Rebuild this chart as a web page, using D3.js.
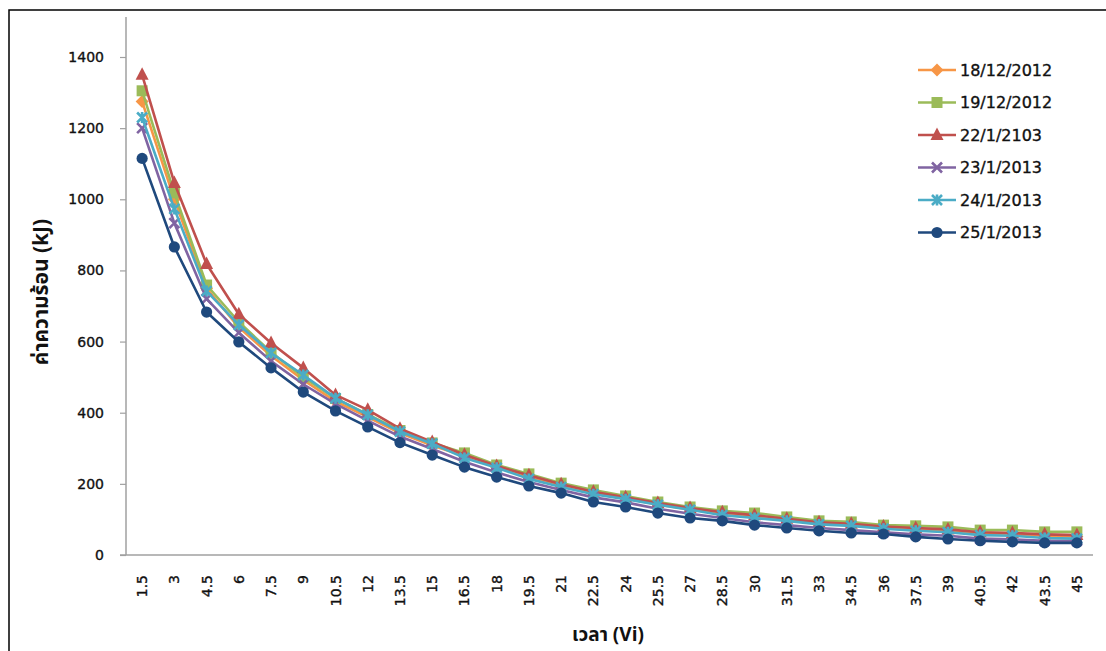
<!DOCTYPE html>
<html><head><meta charset="utf-8">
<script src="https://cdn.jsdelivr.net/npm/d3@7"></script>
<style>body{margin:0;background:#fff}svg{display:block}</style>
</head><body>
<svg id="c" width="1106" height="651"></svg>
<script>
const categories = [1.5,3,4.5,6,7.5,9,10.5,12,13.5,15,16.5,18,19.5,21,22.5,24,25.5,27,28.5,30,31.5,33,34.5,36,37.5,39,40.5,42,43.5,45];
const seriesNames = ["18/12/2012","19/12/2012","22/1/2103","23/1/2013","24/1/2013","25/1/2013"];
const s18_12_2012 = [1275,1000,750,640,560,492,432,388,343,308,278,246,220,195,176,159,142,128,116,108,98,88,84,75,72,68,60,58,54,52];
const s19_12_2012 = [1305,1018,759,655,570,500,440,395,350,315,287,253,228,202,183,166,149,135,124,118,107,96,93,84,82,79,70,70,65,65];
const s22_1_2103  = [1350,1046,818,677,596,526,450,408,355,318,282,250,224,199,178,162,146,132,120,112,102,92,88,80,76,72,64,62,58,56];
const s23_1_2013  = [1200,933,720,625,545,480,425,378,333,298,262,232,205,183,162,148,130,116,104,92,84,76,70,64,58,54,46,44,40,40];
const s24_1_2013  = [1230,973,742,647,568,506,441,394,347,313,273,245,214,191,171,157,141,127,112,104,96,86,82,74,68,64,56,54,48,46];
const s25_1_2013  = [1115,866,683,599,526,458,405,360,316,281,247,219,194,174,149,135,118,104,96,84,76,68,62,59,51,45,40,37,34,34];
const yTicks = [0,200,400,600,800,1000,1200,1400];
const colors = ["#F79646","#9BBB59","#C0504D","#8064A2","#4BACC6","#1F497D"];
const markers = ["diamond","square","triangle","x","star","circle"];
const allSeries = [s18_12_2012,s19_12_2012,s22_1_2103,s23_1_2013,s24_1_2013,s25_1_2013];

(function(){
const svg = d3.select("#c");
const pLeft=126, pRight=1093, pTop=17, pBottom=555;
const x = d3.scaleBand().domain(categories).range([pLeft,pRight]).padding(0);
const xc = d => x(d) + x.bandwidth()/2;
const y = d3.scaleLinear().domain([0,1400]).range([pBottom,57]);

svg.append("rect").attr("x",9).attr("y",10).attr("width",1120).attr("height",680)
  .attr("fill","none").attr("stroke","#000").attr("stroke-width",1.5);

const font = "'DejaVu Sans', Tahoma, Verdana, sans-serif";
const heavy = sel => sel.attr("stroke","#111").attr("stroke-width",0.35);

const ya = svg.append("g").attr("transform",`translate(${pLeft},0)`)
  .call(d3.axisLeft(y).tickValues(yTicks).tickSize(6).tickPadding(16).tickFormat(d3.format("d")));
ya.select(".domain").remove();
ya.selectAll(".tick line").attr("stroke","#A0A0A0").attr("stroke-width",1.2);
heavy(ya.selectAll("text").attr("font-family",font).attr("font-size",14).attr("fill","#111"));
svg.append("line").attr("x1",pLeft).attr("x2",pLeft).attr("y1",pTop).attr("y2",pBottom)
  .attr("stroke","#A0A0A0").attr("stroke-width",1.5);

const xa = svg.append("g").attr("transform",`translate(0,${pBottom})`)
  .call(d3.axisBottom(x).tickSize(0).tickPadding(0).tickFormat(d => String(d)));
xa.select(".domain").remove();
heavy(xa.selectAll("text").attr("font-family",font).attr("font-size",14).attr("fill","#111")
  .attr("text-anchor","end").attr("dy","0.36em")
  .attr("transform","translate(0,20) rotate(-90)").attr("x",0).attr("y",0));
svg.append("line").attr("x1",120).attr("x2",pRight).attr("y1",pBottom).attr("y2",pBottom)
  .attr("stroke","#A0A0A0").attr("stroke-width",1.5);

function drawMarker(g, type, color, cx, cy) {
  if (type==="diamond") {
    g.append("path").attr("d",`M${cx},${cy-6.5}L${cx+6.5},${cy}L${cx},${cy+6.5}L${cx-6.5},${cy}Z`).attr("fill",color);
  } else if (type==="square") {
    g.append("rect").attr("x",cx-5.5).attr("y",cy-5.5).attr("width",11).attr("height",11).attr("fill",color);
  } else if (type==="triangle") {
    g.append("path").attr("d",`M${cx},${cy-7.5}L${cx+6.5},${cy+5}L${cx-6.5},${cy+5}Z`).attr("fill",color);
  } else if (type==="x") {
    g.append("path").attr("d",`M${cx-5},${cy-5}L${cx+5},${cy+5}M${cx+5},${cy-5}L${cx-5},${cy+5}`)
      .attr("stroke",color).attr("stroke-width",2.6);
  } else if (type==="star") {
    g.append("path").attr("d",`M${cx-5},${cy-5}L${cx+5},${cy+5}M${cx+5},${cy-5}L${cx-5},${cy+5}M${cx},${cy-5.5}L${cx},${cy+5.5}`)
      .attr("stroke",color).attr("stroke-width",2.6);
  } else {
    g.append("circle").attr("cx",cx).attr("cy",cy).attr("r",5.6).attr("fill",color);
  }
}

const line = d3.line().x((d,i)=>xc(categories[i])).y(d=>y(d));
allSeries.forEach((vals,si) => {
  const g = svg.append("g");
  g.append("path").attr("d",line(vals)).attr("fill","none").attr("stroke",colors[si])
    .attr("stroke-width",2.6).attr("stroke-linejoin","round");
  vals.forEach((v,i) => drawMarker(g, markers[si], colors[si], xc(categories[i]), y(v)));
});

const lg = svg.append("g");
seriesNames.forEach((n,i) => {
  const ly = 70 + i*32.5;
  lg.append("line").attr("x1",918).attr("x2",956).attr("y1",ly).attr("y2",ly)
    .attr("stroke",colors[i]).attr("stroke-width",2.6);
  drawMarker(lg, markers[i], colors[i], 937, ly);
  heavy(lg.append("text").attr("x",960).attr("y",ly).attr("dy","0.36em")
    .attr("font-family",font).attr("font-size",16).attr("fill","#111").text(n));
});

svg.append("text").attr("transform","translate(48,292) rotate(-90)").attr("text-anchor","middle")
  .attr("font-family","Tahoma, 'Noto Sans Thai', 'DejaVu Sans', sans-serif").attr("font-weight","bold")
  .attr("font-size",21).attr("fill","#111").text("ค่าความร้อน (kJ)");
svg.append("text").attr("x",608).attr("y",641).attr("text-anchor","middle")
  .attr("font-family","Tahoma, 'Noto Sans Thai', 'DejaVu Sans', sans-serif").attr("font-weight","bold")
  .attr("font-size",19).attr("fill","#111").text("เวลา (Vi)");
})();
</script>
</body></html>
